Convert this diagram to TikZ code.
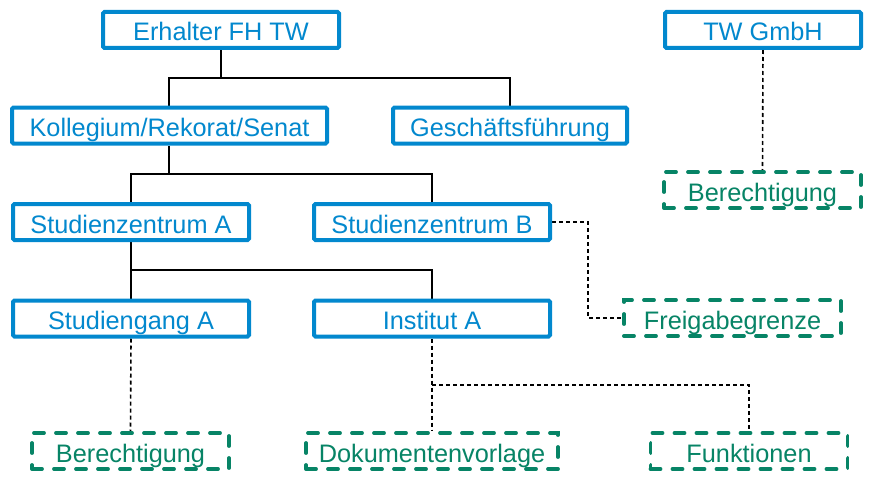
\documentclass[tikz,border=0pt]{standalone}
\usepackage{fontspec}
\setmainfont{Liberation Sans}
\usetikzlibrary{backgrounds}
\definecolor{orgblue}{HTML}{0288CE}
\definecolor{orggreen}{HTML}{078466}
\tikzset{
  bbox/.style={draw=orgblue, line width=4pt, rounded corners=1.5pt, fill=white,
    text=orgblue, inner sep=0pt, minimum width=236pt, minimum height=36pt,
    text height=24pt, text depth=2pt,
    font=\fontsize{25.3}{28}\selectfont},
  gbox/.style={draw=orggreen, line width=3.8pt, line cap=round,
    dash pattern=on 10pt off 12pt, fill=white,
    text=orggreen, inner sep=0pt, minimum width=197pt, minimum height=36pt,
    text height=24pt, text depth=1pt,
    font=\fontsize{25.3}{28}\selectfont},
  solidcon/.style={draw=black, line width=1.6pt},
  dashcon/.style={draw=black, line width=1.6pt, dash pattern=on 4pt off 3pt}
}
\begin{document}
\begin{tikzpicture}[x=1pt,y=-1pt]
\useasboundingbox (0,0) rectangle (875,487);
% blue nodes
\node[bbox] (erh) at (221,30) {Erhalter FH TW};
\node[bbox, minimum width=196pt] (twg) at (763,30) {TW GmbH};
\node[bbox, minimum width=315pt] (kol) at (169.5,125.5) {Kollegium/Rekorat/Senat};
\node[bbox, minimum width=234pt] (gf) at (510,125.5) {Geschäftsführung};
\node[bbox] (sza) at (131,222) {Studienzentrum A};
\node[bbox] (szb) at (432,222) {Studienzentrum B};
\node[bbox] (sga) at (131,318.5) {Studiengang A};
\node[bbox] (ina) at (432,318.5) {Institut A};
% green nodes
\node[gbox] (ber1) at (762.5,190) {Berechtigung};
\node[gbox, minimum width=217pt] (frg) at (732.5,318) {Freigabegrenze};
\node[gbox] (ber2) at (130.5,451) {Berechtigung};
\node[gbox, minimum width=252pt] (dok) at (432,451) {Dokumentenvorlage};
\node[gbox] (fkt) at (749,451) {Funktionen};
% junction coordinates
\coordinate (j1) at (221,78);
\coordinate (j2) at (169,174);
\coordinate (j3) at (131,270);
\coordinate (j4) at (588,222);
\coordinate (j5) at (432,385);
\begin{scope}[on background layer]
\draw[solidcon] (erh.south) -- (j1);
\draw[solidcon] (kol.north -| j2) |- (j1) -| (gf.north);
\draw[solidcon] (kol.south -| j2) -- (j2);
\draw[solidcon] (sza.north) |- (j2) -| (szb.north);
\draw[solidcon] (sza.south) -- (sga.north);
\draw[solidcon] (j3) -| (ina.north);
\draw[dashcon] (twg.south) -- (ber1.north);
\draw[dashcon] (szb.east) -- (j4) |- (frg.west);
\draw[dashcon] (sga.south) -- (ber2.north);
\draw[dashcon] (ina.south) -- (dok.north);
\draw[dashcon] (j5) -| (fkt.north);
\end{scope}
\end{tikzpicture}
\end{document}
